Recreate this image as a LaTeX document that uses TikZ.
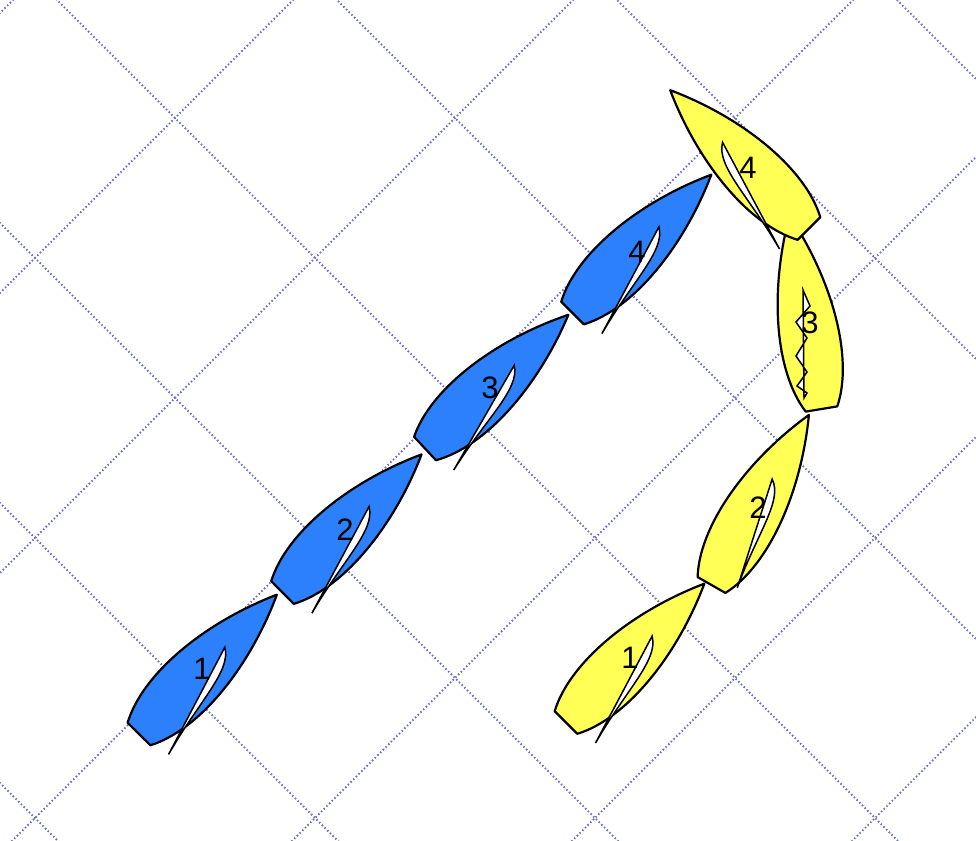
\documentclass[tikz,border=0pt]{standalone}
\usepackage{fontspec}
\setmainfont{Liberation Sans}
\definecolor{boatblue}{RGB}{44,128,252}
\definecolor{boatyellow}{RGB}{255,255,85}
\definecolor{gridc}{RGB}{110,110,200}
\tikzset{
  hull/.style={draw=black, line width=2.2pt, line join=round},
  sailshape/.style={draw=black, fill=white, line width=1.5pt, line join=miter},
  gridline/.style={draw=gridc, line width=1.8pt, dash pattern=on 1.5pt off 2.3pt},
  num/.style={font=\fontsize{31}{32}\selectfont, inner sep=0pt},
}
% #1 colour, #2 x, #3 y (stern centre, image coords), #4 heading
\newcommand{\drawhull}[4]{%
  \begin{scope}[shift={(#2,#3)}, rotate=#4, x=1pt, y=1pt]
    \path[hull, fill=#1] (0,16) .. controls (45,40) and (125,32) .. (196,0)
      .. controls (125,-32) and (45,-40) .. (0,-16) -- cycle;
  \end{scope}}
% #1 x, #2 y, #3 heading, #4 mirror, #5 sail angle, #6 sail length
\newcommand{\drawsail}[6]{%
  \begin{scope}[shift={(#1,#2)}, rotate=#3, x=1pt, y=1pt, yscale=#4]
    \begin{scope}[shift={(122,0)}, rotate=#5]
      \path[sailshape] (0,0) -- (#6,0) .. controls ({0.5*#6},2) and ({0.15*#6},17) .. (0,0) -- cycle;
    \end{scope}
  \end{scope}}
\begin{document}
\begin{tikzpicture}[x=1pt,y=-1pt]
\useasboundingbox (0,0) rectangle (976,840);
\fill[white] (0,0) rectangle (976,840);
\begin{scope}
  \clip (0,0) rectangle (976,840);
  \foreach \k in {-1,...,5} {
    \pgfmathsetmacro\c{293+280*\k}
    \draw[gridline] (\c+100,-100) -- (\c-1000,1000);
  }
  \foreach \k in {-3,...,3} {
    \pgfmathsetmacro\c{-57+280*\k}
    \draw[gridline] (-100,\c-100) -- (1100,\c+1100);
  }
\end{scope}
% blue boats
\drawhull{boatblue}{139}{734}{45.3}
\drawsail{139}{734}{45.3}{1}{197}{121}
\node[num] (b1) at (202,669) {1};
\drawhull{boatblue}{282.5}{592.5}{44.8}
\drawsail{282.5}{592.5}{44.8}{1}{197}{121}
\node[num] (b2) at (345,530) {2};
\drawhull{boatblue}{425}{448.5}{43}
\drawsail{425}{448.5}{43}{1}{197}{121}
\node[num] (b3) at (490,388) {3};
\drawhull{boatblue}{572.5}{313}{44.9}
\drawsail{572.5}{313}{44.9}{1}{197}{121}
\node[num] (b4) at (637,252) {4};
% yellow boats
\drawhull{boatyellow}{566}{722.5}{45.1}
\drawsail{566}{722.5}{45.1}{1}{197}{121}
\node[num] (y1) at (630,658) {1};
\drawhull{boatyellow}{711.5}{585}{60.2}
\drawsail{711.5}{585}{60.2}{1}{192}{114}
\node[num] (y2) at (758,508) {2};
\drawhull{boatyellow}{821.5}{409}{99.4}
\path[sailshape] (803,290) -- (810,306) -- (796,322) -- (807,338) -- (796,356)
  -- (807,372) -- (797,386) -- (807,393) -- (804,398) -- cycle;
\node[num] (y3) at (810,323) {3};
\drawhull{boatyellow}{809}{228.5}{135.1}
\drawsail{809}{228.5}{135.1}{-1}{197}{121}
\node[num] (y4) at (748,168) {4};
\end{tikzpicture}
\end{document}
